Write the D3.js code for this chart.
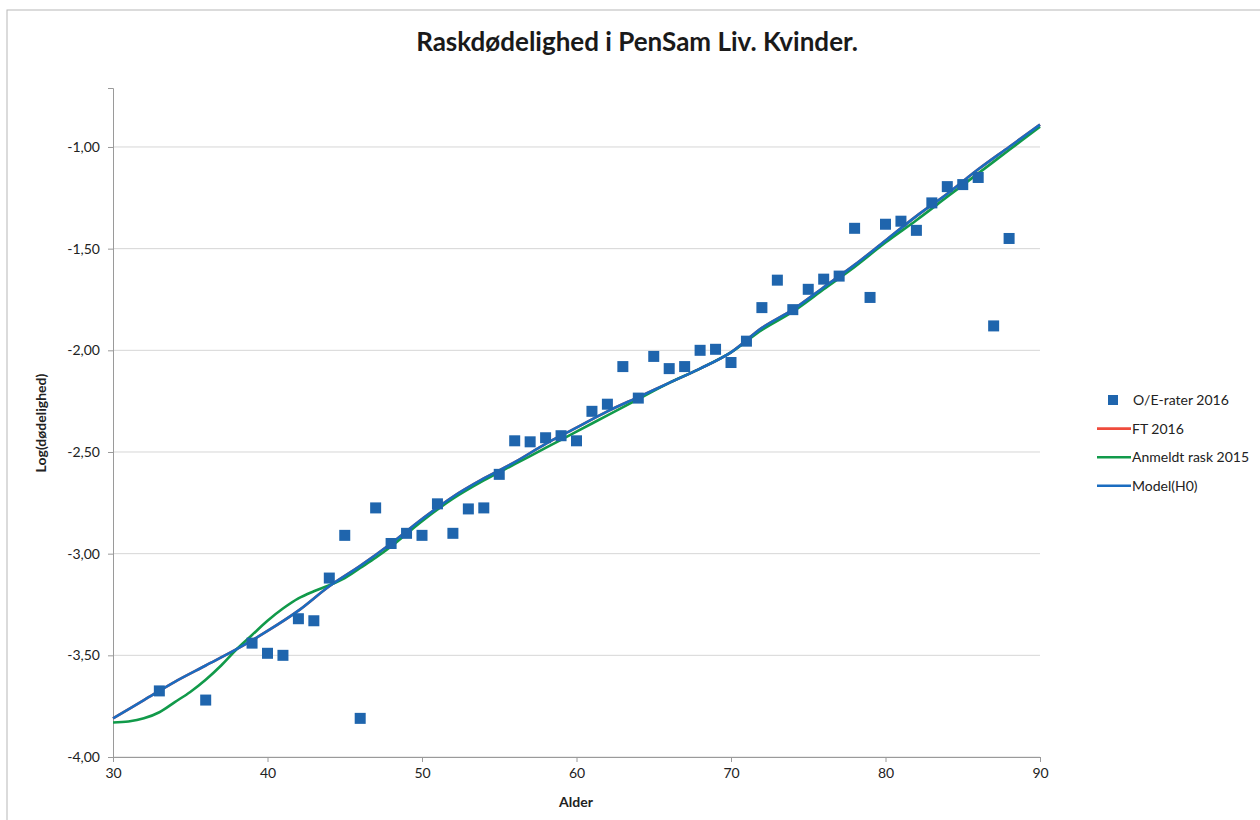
<!DOCTYPE html>
<html>
<head>
<meta charset="utf-8">
<script src="https://cdn.jsdelivr.net/npm/d3@7"></script>
<style>
  body { margin: 0; background: #fff; }
  svg { display: block; font-family: Lato, "Open Sans", sans-serif; }
</style>
</head>
<body>
<div id="chart"></div>
<script>
// observed O/E rates
const obsAge = [33, 36, 39, 40, 41, 42, 43, 44, 45, 46, 47, 48, 49, 50, 51, 52, 53, 54, 55, 56, 57, 58, 59, 60,
  61, 62, 63, 64, 65, 66, 67, 68, 69, 70, 71, 72, 73, 74, 75, 76, 77, 78, 79, 80, 81, 82, 83, 84, 85, 86, 87, 88];
const obsVal = [-3.675, -3.72, -3.44, -3.49, -3.50, -3.32, -3.33, -3.12, -2.91, -3.81, -2.775, -2.95, -2.90, -2.91,
  -2.755, -2.90, -2.78, -2.775, -2.61, -2.445, -2.45, -2.43, -2.42, -2.445,
  -2.30, -2.265, -2.08, -2.235, -2.03, -2.09, -2.08, -2.00, -1.995, -2.06, -1.955, -1.79, -1.655, -1.80, -1.70, -1.65,
  -1.635, -1.40, -1.74, -1.38, -1.365, -1.41, -1.275, -1.195, -1.185, -1.15, -1.88, -1.45];

// curves
const modelAge = [30, 32, 34, 36, 38, 40, 42, 44, 46, 48, 50, 52, 54, 56, 58, 60, 62, 64, 66, 68, 70, 72, 74, 76, 78, 80, 82, 84, 86, 88, 90];
const modelH0 = [-3.81, -3.72, -3.63, -3.55, -3.47, -3.38, -3.28, -3.16, -3.06, -2.95, -2.83, -2.72, -2.63, -2.55, -2.46,
  -2.38, -2.30, -2.23, -2.16, -2.09, -2.01, -1.89, -1.80, -1.69, -1.58, -1.46, -1.34, -1.23, -1.11, -1.00, -0.89];
const ft2016 = [-3.81, -3.72, -3.63, -3.55, -3.47, -3.38, -3.28, -3.16, -3.06, -2.95, -2.83, -2.72, -2.63, -2.55, -2.46,
  -2.38, -2.30, -2.23, -2.16, -2.09, -2.01, -1.89, -1.80, -1.69, -1.58, -1.46, -1.34, -1.23, -1.11, -1.00, -0.89];
const raskAge = [30, 31, 32, 33, 34, 35, 36, 37, 38, 39, 40, 41, 42, 43, 44, 45, 46, 47, 48, 50, 52, 54, 56, 58, 60,
  62, 64, 66, 68, 70, 72, 74, 76, 78, 80, 82, 84, 86, 88, 90];
const rask2015 = [-3.83, -3.825, -3.81, -3.78, -3.73, -3.68, -3.62, -3.55, -3.47, -3.40, -3.33, -3.27, -3.22, -3.185,
  -3.155, -3.12, -3.07, -3.02, -2.965, -2.84, -2.73, -2.64, -2.56, -2.48, -2.40, -2.32, -2.24, -2.16, -2.09, -2.01,
  -1.90, -1.81, -1.70, -1.59, -1.47, -1.36, -1.245, -1.13, -1.015, -0.90];

const xTicks = [30, 40, 50, 60, 70, 80, 90];
const yTicks = [-1, -1.5, -2, -2.5, -3, -3.5, -4];
const legendLabels = ["O/E-rater 2016", "FT 2016", "Anmeldt rask 2015", "Model(H0)"];

const width = 1260, height = 820;
const margin = {top: 88, bottom: 63, left: 113, right: 220};
const cMarker = "#1f65ad", cRed = "#ef4b3c", cGreen = "#119a4a", cBlue = "#1a6cc0";

const svg = d3.select("#chart").append("svg")
  .attr("width", width).attr("height", height);

// frame
svg.append("rect").attr("x", 7).attr("y", 10).attr("width", 1300).attr("height", 900)
  .attr("fill", "none").attr("stroke", "#b8b8b8");

const x = d3.scaleLinear().domain([30, 90]).range([margin.left, width - margin.right]);
const y = d3.scaleLinear().domain([-4, -0.71]).range([height - margin.bottom, margin.top]);
const fmt = v => v.toFixed(2).replace(".", ",");

// gridlines
svg.append("g").selectAll("line").data(yTicks).join("line")
  .attr("x1", x(30)).attr("x2", x(90))
  .attr("y1", d => y(d)).attr("y2", d => y(d))
  .attr("stroke", "#d6d6d6");

// y axis
const yAxis = svg.append("g")
  .attr("transform", `translate(${margin.left},0)`)
  .call(d3.axisLeft(y).tickValues(yTicks).tickFormat(fmt).tickSize(5).tickPadding(8));
yAxis.select(".domain").attr("stroke", "#9a9a9a");
yAxis.selectAll(".tick line").attr("stroke", "#9a9a9a");
yAxis.selectAll("text").attr("font-size", 14).attr("fill", "#222").attr("font-family", "Lato");

// x axis
const xAxis = svg.append("g")
  .attr("transform", `translate(0,${y(-4)})`)
  .call(d3.axisBottom(x).tickValues(xTicks).tickSize(5).tickPadding(6));
xAxis.select(".domain").attr("stroke", "#9a9a9a");
xAxis.selectAll(".tick line").attr("stroke", "#9a9a9a");
xAxis.selectAll("text").attr("font-size", 14).attr("fill", "#222").attr("font-family", "Lato");

// lines
const line = d3.line().curve(d3.curveCatmullRom.alpha(0.5));
function drawLine(ages, vals, colour) {
  svg.append("path")
    .attr("d", line(ages.map((a, i) => [x(a), y(vals[i])])))
    .attr("fill", "none").attr("stroke", colour).attr("stroke-width", 2.6);
}
drawLine(modelAge, ft2016, cRed);
drawLine(raskAge, rask2015, cGreen);
drawLine(modelAge, modelH0, cBlue);

// points
const s = 11;
svg.append("g").selectAll("rect").data(obsAge).join("rect")
  .attr("x", (d) => x(d) - s / 2)
  .attr("y", (d, i) => y(obsVal[i]) - s / 2)
  .attr("width", s).attr("height", s)
  .attr("fill", cMarker);

// title + axis titles
svg.append("text").attr("x", 637).attr("y", 51).attr("text-anchor", "middle")
  .attr("font-size", 26).attr("font-weight", "bold").attr("fill", "#1a1a1a")
  .text("Raskdødelighed i PenSam Liv. Kvinder.");
svg.append("text").attr("x", 576).attr("y", 807).attr("text-anchor", "middle")
  .attr("font-size", 14).attr("font-weight", "bold").attr("fill", "#222")
  .text("Alder");
svg.append("text").attr("transform", "translate(46,423) rotate(-90)").attr("text-anchor", "middle")
  .attr("font-size", 14).attr("font-weight", "bold").attr("fill", "#222")
  .text("Log(dødelighed)");

// legend
const lg = svg.append("g").attr("transform", "translate(1097,400)");
legendLabels.forEach((lab, i) => {
  const row = lg.append("g").attr("transform", `translate(0,${i * 28.6})`);
  if (i === 0) {
    row.append("rect").attr("x", 11).attr("y", -5).attr("width", 10).attr("height", 10).attr("fill", cMarker);
    row.append("text").attr("x", 36).attr("y", 5).attr("font-size", 14).attr("fill", "#222").text(lab);
  } else {
    row.append("line").attr("x1", 0).attr("x2", 34).attr("y1", 0).attr("y2", 0)
      .attr("stroke", [cRed, cGreen, cBlue][i - 1]).attr("stroke-width", 2.6);
    row.append("text").attr("x", 35).attr("y", 5).attr("font-size", 14).attr("fill", "#222").text(lab);
  }
});
</script>
</body>
</html>
